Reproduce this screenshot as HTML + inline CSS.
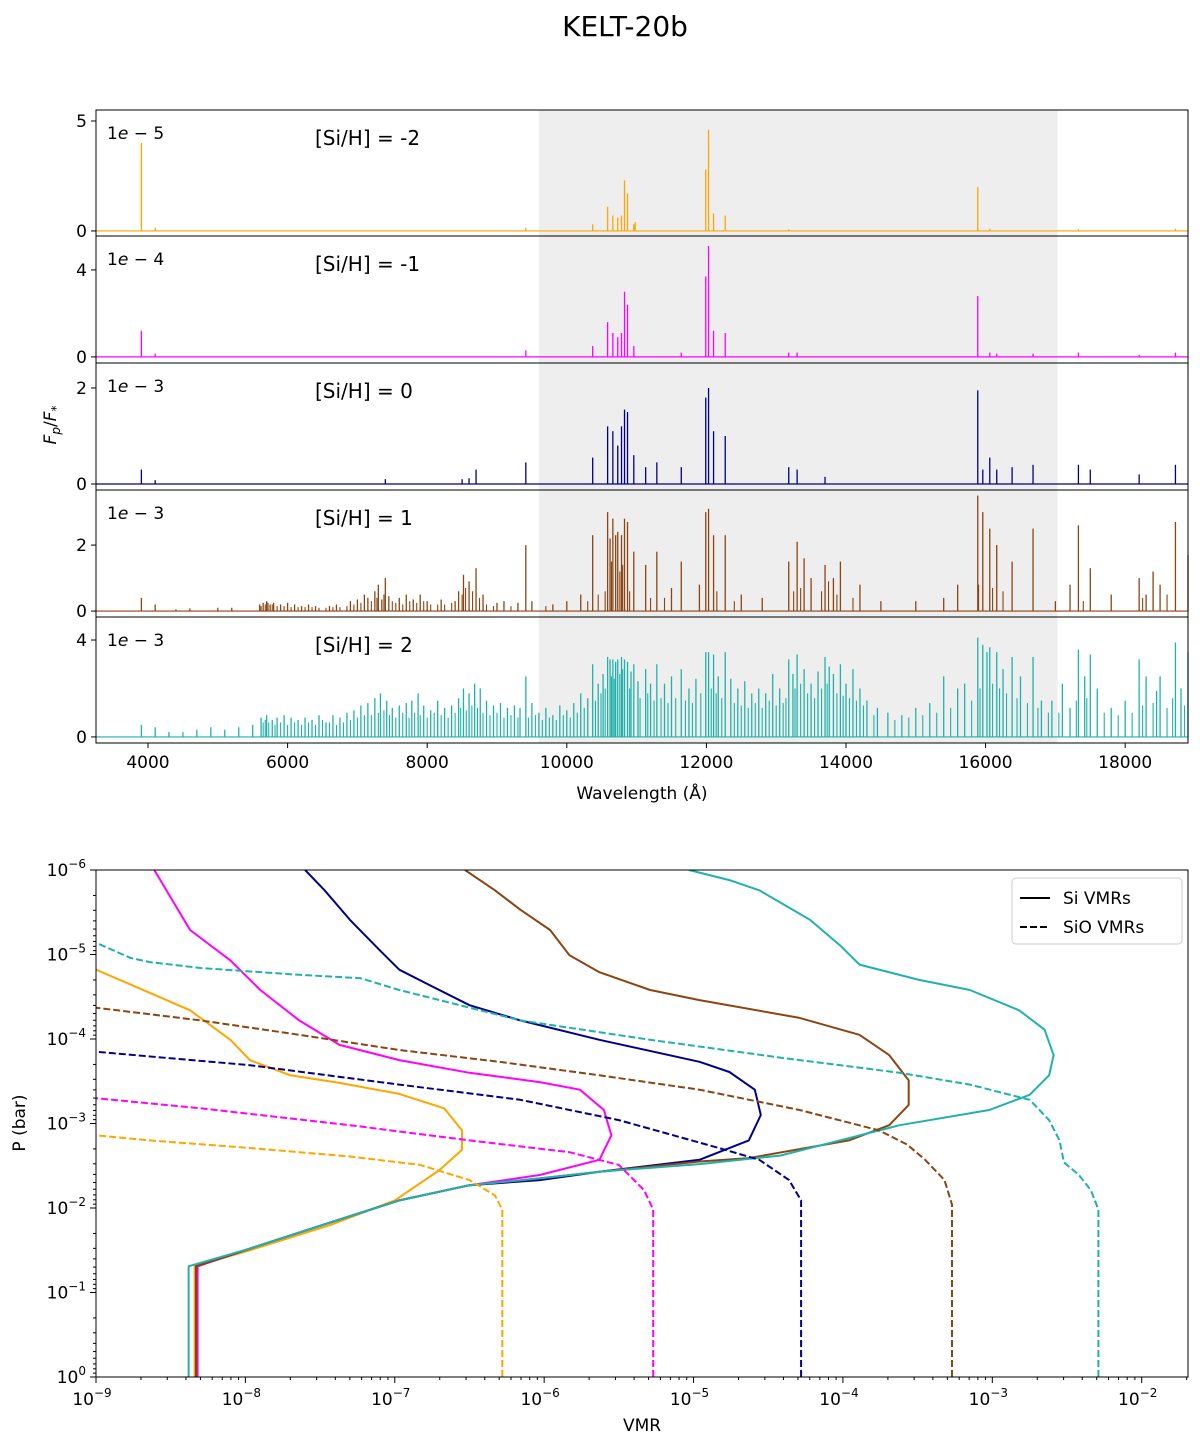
<!DOCTYPE html>
<html><head><meta charset="utf-8"><style>
body{margin:0;background:#fff;}
svg text{font-family:"DejaVu Sans","Liberation Sans",sans-serif;fill:#000;}
</style></head><body>
<svg id="fig" width="1200" height="1438" viewBox="0 0 1200 1438" xmlns="http://www.w3.org/2000/svg">
<text x="625" y="36" font-size="28" text-anchor="middle">KELT-20b</text>
</svg>
<script>
// ---------- spectrum data ----------
const xTicks=[4000,6000,8000,10000,12000,14000,16000,18000];
const labels=["[Si/H] = -2","[Si/H] = -1","[Si/H] = 0","[Si/H] = 1","[Si/H] = 2"];
const scaleExp=["5","4","3","3","3"];
const yTicksP=[[0,5],[0,4],[0,2],[0,2],[0,4]];
const shadeRange=[9600,17030];
const wl1=[3905,4103,9413,10371,10585,10660,10730,10784,10827,10870,10960,10980,11991,12031,12103,12270,13180,15888,16060,17330,18720];
const fl1=[4.0,0.15,0.15,0.3,1.1,0.7,0.6,0.7,2.3,1.7,0.3,0.4,2.8,4.6,0.8,0.7,0.08,2.0,0.1,0.08,0.1];
const wl2=[3905,4103,9413,10371,10585,10660,10730,10784,10827,10870,10960,11640,11991,12031,12103,12270,13180,13300,15888,16060,16160,16680,17330,18200,18720];
const fl2=[1.2,0.15,0.3,0.5,1.6,1.1,0.9,1.1,3.0,2.4,0.5,0.2,3.7,5.1,1.2,1.1,0.2,0.2,2.8,0.2,0.15,0.15,0.2,0.1,0.2];
const wl3=[3905,4103,7400,8500,8600,8700,9413,10371,10585,10660,10730,10784,10827,10870,10960,11130,11290,11640,11991,12031,12103,12270,13180,13300,13700,15888,15960,16060,16160,16380,16680,17330,17500,18200,18720];
const fl3=[0.3,0.08,0.1,0.1,0.12,0.3,0.45,0.55,1.2,1.1,0.8,1.2,1.55,1.5,0.6,0.35,0.45,0.35,1.8,2.0,1.1,1.0,0.35,0.3,0.15,1.95,0.3,0.55,0.3,0.35,0.4,0.4,0.3,0.2,0.4];
const wl4=[3905,4103,4400,4600,5000,5200,5600,5650,5700,5750,5800,5900,6000,6100,6200,6300,6400,6600,6700,6900,7000,7100,7150,7250,7300,7350,7400,7450,7600,7700,7800,7900,8000,8200,8400,8450,8520,8600,8700,8800,9000,9100,9300,9413,9500,9800,10000,10200,10371,10585,10620,10660,10700,10730,10784,10827,10870,10960,11130,11290,11500,11640,11900,11991,12031,12103,12270,12500,12800,13180,13300,13400,13500,13700,13820,13920,14200,14500,15000,15400,15600,15888,15960,16060,16160,16380,16680,17000,17210,17330,17500,17800,18200,18300,18400,18500,18720,18900];
const fl4=[0.4,0.2,0.05,0.08,0.1,0.1,0.2,0.25,0.3,0.2,0.25,0.2,0.25,0.2,0.15,0.2,0.15,0.15,0.2,0.3,0.35,0.5,0.4,0.6,0.8,0.35,1.0,0.45,0.4,0.5,0.35,0.5,0.3,0.35,0.3,0.6,1.1,0.9,1.3,0.5,0.25,0.3,0.25,2.0,0.3,0.2,0.3,0.5,2.3,3.0,2.2,2.8,2.3,2.4,2.3,2.8,2.7,1.8,1.4,1.8,0.7,1.5,0.8,3.0,3.1,2.3,2.3,0.5,0.4,1.5,2.1,1.6,1.0,1.4,1.0,1.5,0.8,0.3,0.3,0.4,0.8,3.5,3.0,2.5,2.0,1.5,2.5,0.3,0.8,2.6,1.3,0.5,1.0,0.5,1.2,0.8,2.7,1.7];
const wl4b=[5620,5680,5720,5780,5850,5950,6050,6150,6250,6350,6450,6550,6650,6750,6850,6950,7050,7200,7280,7380,7500,7550,7650,7750,7850,7950,8050,8150,8250,8350,8500,8550,8650,8750,8850,8950,9200,9700,10300,10450,10550,10640,10760,10800,10900,11200,11400,12150,12400,13250,13350,13650,13750,13870,14100,15900,16100,16250,17400,18250,18600];
const fl4b=[0.15,0.2,0.25,0.2,0.15,0.15,0.12,0.12,0.12,0.12,0.1,0.1,0.12,0.12,0.15,0.2,0.25,0.3,0.4,0.5,0.3,0.25,0.2,0.3,0.25,0.3,0.2,0.2,0.2,0.25,0.5,0.7,0.6,0.4,0.2,0.15,0.15,0.15,0.3,0.5,0.6,1.5,1.2,1.4,0.6,0.4,0.4,0.6,0.3,0.6,0.7,0.6,0.9,0.5,0.4,0.8,0.7,0.6,0.3,0.4,0.5];
const wl5=[3905,4103,4300,4500,4700,4900,5100,5300,5500,5620,5700,5780,5850,5950,6050,6150,6250,6350,6450,6550,6650,6750,6850,6950,7050,7150,7250,7330,7420,7500,7600,7700,7780,7870,7950,8050,8150,8250,8350,8450,8520,8600,8680,8760,8850,8950,9050,9150,9250,9330,9413,9500,9600,9700,9800,9900,10000,10100,10200,10300,10371,10450,10520,10585,10620,10660,10700,10730,10784,10827,10870,10920,10960,11020,11130,11200,11290,11400,11500,11640,11750,11850,11991,12031,12103,12170,12270,12350,12450,12550,12650,12750,12850,12950,13050,13180,13240,13300,13400,13500,13600,13700,13760,13820,13920,14000,14100,14200,14300,14450,14600,14800,15000,15200,15400,15600,15700,15888,15960,16020,16060,16160,16250,16380,16500,16680,16800,16950,17100,17210,17330,17420,17500,17600,17800,18000,18200,18300,18450,18500,18720,18800,18900];
const fl5=[0.5,0.4,0.2,0.2,0.3,0.4,0.3,0.4,0.5,0.8,0.9,0.7,0.8,0.9,0.8,0.7,0.8,0.7,0.9,0.6,0.9,0.8,1.0,1.1,1.3,1.4,1.6,1.8,1.5,1.2,1.3,1.4,1.5,1.8,1.3,1.1,1.5,1.2,1.3,1.6,2.0,1.8,2.2,2.0,1.5,1.3,1.4,1.2,1.3,1.2,2.5,1.4,1.0,1.2,0.9,1.3,1.1,1.4,1.8,1.6,3.0,2.2,2.6,3.3,3.2,3.2,3.1,3.2,3.3,3.2,3.1,2.7,3.0,2.3,2.8,2.2,3.0,2.2,2.5,2.8,2.0,2.4,3.5,3.5,3.4,2.5,3.5,2.4,2.0,2.3,1.8,2.0,1.8,2.6,2.0,3.2,2.6,3.4,2.8,2.2,2.7,3.3,2.9,2.6,3.0,2.2,2.8,2.0,1.5,1.2,1.0,0.9,1.2,1.4,2.5,2.0,2.2,4.1,3.8,3.5,3.7,3.5,2.8,3.3,2.5,3.3,1.5,1.5,2.2,1.2,3.6,2.5,3.4,2.0,1.2,1.5,3.2,2.5,1.9,2.5,3.9,2.0,3.5];
const wl5b=[5650,5680,5730,5820,5900,6000,6100,6200,6300,6400,6500,6600,6700,6800,6900,7000,7100,7200,7300,7380,7460,7550,7650,7740,7820,7900,8000,8100,8200,8300,8400,8480,8560,8640,8720,8800,8900,9000,9100,9200,9300,9450,9550,9650,9750,9850,9950,10050,10150,10250,10410,10490,10550,10640,10680,10760,10800,10900,11050,11160,11250,11350,11450,11560,11700,11800,11920,12070,12140,12220,12400,12500,12600,12700,12800,12900,13000,13100,13140,13270,13350,13450,13550,13650,13730,13870,13960,14050,14150,14250,14400,14700,14900,15100,15300,15500,15800,15920,16100,16200,16300,16450,16600,16750,16900,17050,17300,17450,17700,17900,18100,18250,18400,18600,18680,18850];
const fl5b=[0.6,0.7,0.6,0.5,0.6,0.5,0.6,0.5,0.6,0.5,0.7,0.6,0.5,0.6,0.7,0.8,0.9,0.9,1.0,1.1,0.9,0.8,1.0,0.8,1.0,0.9,0.8,1.0,0.9,0.8,1.0,1.2,1.1,1.3,1.2,1.0,0.9,1.0,0.8,0.9,0.8,0.8,0.9,0.7,0.8,0.7,0.9,0.8,1.0,1.2,1.5,1.8,2.0,2.5,2.4,2.6,2.8,2.0,1.6,1.8,1.5,1.6,1.4,1.6,1.5,1.4,1.8,2.0,1.8,1.6,1.4,1.3,1.2,1.4,1.2,1.5,1.3,1.4,1.6,2.0,2.2,1.8,1.6,2.0,2.2,1.8,1.7,1.6,1.5,1.3,0.9,0.7,0.8,0.9,1.0,1.2,1.5,2.0,2.2,2.0,1.8,1.6,1.4,1.2,1.0,1.0,1.5,1.6,1.0,0.9,1.0,1.3,1.4,1.2,1.6,1.3];
const panelWl=[wl1,wl2,wl3,wl4,wl5];
const panelFl=[fl1,fl2,fl3,fl4,fl5];
const panelWlB=[[],[],[],wl4b,wl5b];
const panelFlB=[[],[],[],fl4b,fl5b];
const panelYmin=[-0.23,-0.28,-0.125,-0.18,-0.25];
const panelYmax=[5.5,5.56,2.52,3.67,4.95];
const colors=["#FFA500","#FF00FF","#00008B","#8B4513","#20B2AA"];

// ---------- VMR profile data (log10 VMR, log10 P[bar]) ----------
const si_m2_x=[-8.34,-8.34,-7.97,-7.43,-7.0,-6.70,-6.55,-6.55,-6.67,-6.97,-7.37,-7.70,-7.97,-8.10,-8.37,-8.71,-9];
const si_m2_p=[0,-1.31,-1.50,-1.80,-2.09,-2.45,-2.69,-2.92,-3.18,-3.35,-3.48,-3.57,-3.75,-3.99,-4.34,-4.60,-4.82];
const si_m1_x=[-8.32,-8.32,-7.90,-7.43,-6.97,-6.50,-6.03,-5.63,-5.55,-5.60,-5.76,-6.03,-6.50,-6.97,-7.37,-7.64,-7.90,-8.10,-8.37,-8.61];
const si_m1_p=[0,-1.31,-1.56,-1.83,-2.09,-2.27,-2.39,-2.57,-2.86,-3.16,-3.40,-3.49,-3.60,-3.75,-3.93,-4.22,-4.58,-4.93,-5.29,-6];
const si_0_x=[-8.33,-8.33,-7.90,-7.43,-6.97,-6.50,-6.03,-5.63,-4.96,-4.63,-4.55,-4.59,-4.76,-4.96,-5.63,-6.16,-6.50,-6.77,-6.97,-7.10,-7.30,-7.47,-7.60];
const si_0_p=[0,-1.31,-1.56,-1.83,-2.09,-2.27,-2.33,-2.43,-2.57,-2.80,-3.10,-3.40,-3.61,-3.73,-3.99,-4.22,-4.40,-4.64,-4.82,-5.05,-5.41,-5.76,-6];
const si_p1_x=[-8.33,-8.33,-7.90,-7.43,-6.97,-6.50,-6.03,-5.63,-4.96,-4.63,-3.96,-3.69,-3.56,-3.56,-3.69,-3.89,-4.29,-4.96,-5.29,-5.63,-5.83,-5.96,-6.16,-6.33,-6.53];
const si_p1_p=[0,-1.31,-1.56,-1.83,-2.09,-2.27,-2.35,-2.43,-2.55,-2.59,-2.80,-2.98,-3.22,-3.51,-3.81,-4.05,-4.25,-4.46,-4.58,-4.79,-4.99,-5.29,-5.53,-5.76,-6];
const si_p2_x=[-8.38,-8.38,-7.95,-7.43,-6.97,-6.50,-6.03,-5.63,-4.96,-4.42,-3.62,-3.02,-2.75,-2.62,-2.59,-2.65,-2.82,-3.15,-3.49,-3.89,-4.02,-4.22,-4.56,-4.76,-5.03];
const si_p2_p=[0,-1.31,-1.53,-1.83,-2.09,-2.27,-2.35,-2.43,-2.52,-2.62,-2.98,-3.16,-3.34,-3.57,-3.81,-4.11,-4.34,-4.58,-4.70,-4.88,-5.11,-5.41,-5.76,-5.88,-6];
const sio_m2_x=[-6.28,-6.28,-6.33,-6.50,-6.83,-7.30,-7.97,-8.64,-9];
const sio_m2_p=[0,-1.98,-2.15,-2.33,-2.51,-2.61,-2.71,-2.80,-2.86];
const sio_m1_x=[-5.27,-5.27,-5.33,-5.50,-5.83,-6.50,-7.30,-8.30,-9];
const sio_m1_p=[0,-1.98,-2.21,-2.51,-2.66,-2.80,-2.98,-3.18,-3.30];
const sio_0_x=[-4.28,-4.28,-4.36,-4.56,-4.83,-5.50,-6.16,-6.97,-7.97,-9];
const sio_0_p=[0,-2.09,-2.33,-2.57,-2.71,-3.04,-3.28,-3.46,-3.69,-3.85];
const sio_p1_x=[-3.27,-3.27,-3.32,-3.45,-3.57,-3.76,-4.29,-4.96,-5.63,-6.30,-6.97,-7.64,-8.30,-9];
const sio_p1_p=[0,-2.04,-2.33,-2.57,-2.75,-2.92,-3.16,-3.40,-3.57,-3.73,-3.87,-4.05,-4.22,-4.37];
const sio_p2_x=[-2.29,-2.29,-2.34,-2.42,-2.52,-2.55,-2.62,-2.75,-3.15,-3.62,-4.42,-5.29,-6.16,-6.97,-7.23,-7.64,-8.30,-8.64,-8.77,-9];
const sio_p2_p=[0,-1.98,-2.21,-2.39,-2.54,-2.80,-3.04,-3.28,-3.46,-3.60,-3.78,-3.99,-4.22,-4.58,-4.72,-4.76,-4.84,-4.91,-4.96,-5.14];
const vmrXTicks=[-9,-8,-7,-6,-5,-4,-3,-2];
const vmrYTicks=[-6,-5,-4,-3,-2,-1,0];

const NS="http://www.w3.org/2000/svg";
const svg=document.getElementById('fig');
function mk(tag,attrs,parent){const e=document.createElementNS(NS,tag);for(const k in attrs)e.setAttribute(k,attrs[k]);(parent||svg).appendChild(e);return e;}

// ---------- top panels ----------
const L=96,R=1188,tops=[110,236,363,490,617],H=[126,127,127,127,126];
const wlMin=3255,wlMax=18900;
const sx=w=>L+(w-wlMin)/(wlMax-wlMin)*(R-L);
for(let i=0;i<5;i++){
  const g=mk('g',{});
  
  
  const t=tops[i],b=t+H[i];
  const sy=v=>b-(v-panelYmin[i])/(panelYmax[i]-panelYmin[i])*H[i];
  const sh=mk('rect',{x:sx(shadeRange[0]),y:t,width:sx(shadeRange[1])-sx(shadeRange[0]),height:H[i],fill:'#eeeeee'},g);
  
  
  const y0=sy(0);
  mk('line',{x1:L,x2:R,y1:y0,y2:y0,stroke:colors[i],'stroke-width':1.2},g);
  const wlb=panelWlB[i],flb=panelFlB[i];
  for(let k=0;k<wlb.length;k++){
    const ln=mk('line',{x1:sx(wlb[k]),x2:sx(wlb[k]),y1:y0,y2:sy(flb[k]),stroke:colors[i],'stroke-width':1.1},g);
    
    
  }
  const wl=panelWl[i],fl=panelFl[i];
  for(let k=0;k<wl.length;k++){
    const ln=mk('line',{x1:sx(wl[k]),x2:sx(wl[k]),y1:y0,y2:sy(fl[k]),stroke:colors[i],'stroke-width':1.3},g);
    
    
  }
  mk('rect',{x:L,y:t,width:R-L,height:H[i],fill:'none',stroke:'#000','stroke-width':1},g);
  yTicksP[i].forEach(v=>{
    mk('line',{x1:L-5,x2:L,y1:sy(v),y2:sy(v),stroke:'#000'},g);
    const tx=mk('text',{x:L-9,y:sy(v)+6,'font-size':17,'text-anchor':'end'},g);tx.textContent=v;
    
    
  });
  const sc=mk('text',{x:107,y:t+29,'font-size':17},g);
  sc.innerHTML='1<tspan font-style="italic">e</tspan> \u2212 '+scaleExp[i];
  
  
  const lb=mk('text',{x:315,y:t+35,'font-size':20},g);lb.textContent=labels[i];
  
  
}
xTicks.forEach(v=>{
  mk('line',{x1:sx(v),x2:sx(v),y1:743,y2:748,stroke:'#000'});
  const tx=mk('text',{x:sx(v),y:768,'font-size':17,'text-anchor':'middle'});tx.textContent=v;
  
  
});
let t1=mk('text',{x:642,y:799,'font-size':17,'text-anchor':'middle'});t1.textContent='Wavelength (Å)';


let t2=mk('text',{x:0,y:0,'font-size':17,'text-anchor':'middle',transform:'translate(56,425) rotate(-90)'});
t2.innerHTML='<tspan font-style="italic">F</tspan><tspan font-size="12" font-style="italic" dy="4">p</tspan><tspan dy="-4">/</tspan><tspan font-style="italic">F</tspan><tspan font-size="12" dy="4">*</tspan>';



// ---------- VMR panel ----------
const BT=870,BB=1377,xmin=-9,xmax=-1.69;
const vx=v=>L+(v-xmin)/(xmax-xmin)*(R-L);
const vy=p=>BT+(p-(-6))/6*(BB-BT);
const bg=mk('g',{});


const curves=[[si_m2_x,si_m2_p,0,false],[si_m1_x,si_m1_p,1,false],[si_0_x,si_0_p,2,false],[si_p1_x,si_p1_p,3,false],[si_p2_x,si_p2_p,4,false],
[sio_m2_x,sio_m2_p,0,true],[sio_m1_x,sio_m1_p,1,true],[sio_0_x,sio_0_p,2,true],[sio_p1_x,sio_p1_p,3,true],[sio_p2_x,sio_p2_p,4,true]];
const clip=mk('clipPath',{id:'cp'},bg);mk('rect',{x:L,y:BT,width:R-L,height:BB-BT},clip);
curves.forEach(c=>{
  const pts=c[0].map((x,k)=>vx(x).toFixed(1)+','+vy(c[1][k]).toFixed(1)).join(' ');
  const pl=mk('polyline',{points:pts,fill:'none',stroke:colors[c[2]],'stroke-width':2,'clip-path':'url(#cp)','stroke-linejoin':'round'},bg);
  if(c[3])pl.setAttribute('stroke-dasharray','7,3');
  
  
});
mk('rect',{x:L,y:BT,width:R-L,height:BB-BT,fill:'none',stroke:'#000'},bg);
vmrXTicks.forEach(v=>{
  mk('line',{x1:vx(v),x2:vx(v),y1:BB,y2:BB+6,stroke:'#000'},bg);
  for(let m=2;m<10;m++){const xx=vx(v+Math.log10(m));if(xx<R)mk('line',{x1:xx,x2:xx,y1:BB,y2:BB+3,stroke:'#000'},bg);}
  const tx=mk('text',{x:vx(v)-4,y:BB+28,'font-size':17,'text-anchor':'middle'},bg);
  tx.innerHTML='10<tspan font-size="12" dy="-8">\u2212'+(-v)+'</tspan>';
  
  
});
vmrYTicks.forEach(v=>{
  mk('line',{x1:L-6,x2:L,y1:vy(v),y2:vy(v),stroke:'#000'},bg);
  if(v<0)for(let m=2;m<10;m++){const yy=vy(v+Math.log10(m));mk('line',{x1:L-3,x2:L,y1:yy,y2:yy,stroke:'#000'},bg);}
  const tx=mk('text',{x:L-10,y:vy(v)+6,'font-size':17,'text-anchor':'end'},bg);
  tx.innerHTML=v===0?'10<tspan font-size="12" dy="-8">0</tspan>':'10<tspan font-size="12" dy="-8">\u2212'+(-v)+'</tspan>';
  
  
});
let t3=mk('text',{x:642,y:1431,'font-size':17,'text-anchor':'middle'});t3.textContent='VMR';


let t4=mk('text',{x:0,y:0,'font-size':17,'text-anchor':'middle',transform:'translate(25,1123) rotate(-90)'});t4.textContent='P (bar)';


// legend
const lg=mk('g',{});


mk('rect',{x:1012,y:878,width:170,height:66,rx:4,fill:'#fff',stroke:'#ccc'},lg);
mk('line',{x1:1020,x2:1050,y1:898,y2:898,stroke:'#000','stroke-width':2},lg);
mk('line',{x1:1020,x2:1050,y1:927,y2:927,stroke:'#000','stroke-width':2,'stroke-dasharray':'7,3'},lg);
let l1=mk('text',{x:1063,y:904,'font-size':17},lg);l1.textContent='Si VMRs';


let l2=mk('text',{x:1063,y:933,'font-size':17},lg);l2.textContent='SiO VMRs';


</script>
</body></html>
